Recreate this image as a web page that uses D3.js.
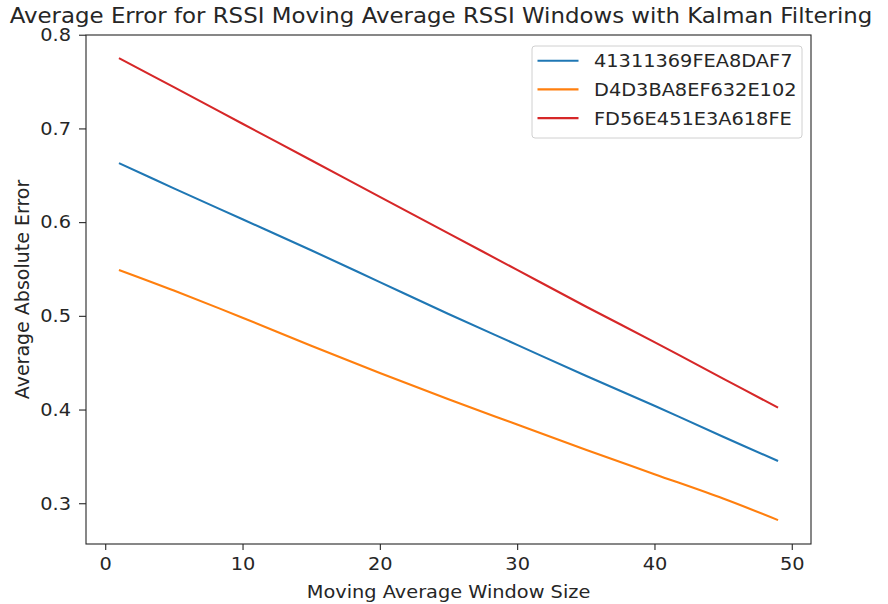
<!DOCTYPE html>
<html>
<head>
<meta charset="utf-8">
<script src="https://cdn.jsdelivr.net/npm/d3@7"></script>
<style>
  body { margin: 0; background: #fff; }
  text { font-family: "DejaVu Sans", sans-serif; fill: #262626; }
</style>
</head>
<body>
<div id="chart"></div>
<script>
const windowSizes = [1, 5, 10, 15, 20, 25, 30, 35, 40, 45, 49];
const seriesNames = ["41311369FEA8DAF7", "D4D3BA8EF632E102", "FD56E451E3A618FE"];
const blueValues = [0.663, 0.636, 0.603, 0.570, 0.536, 0.502, 0.469, 0.436, 0.404, 0.371, 0.345];
const orangeValues = [0.549, 0.527, 0.498, 0.468, 0.439, 0.411, 0.384, 0.357, 0.331, 0.305, 0.282];
const redValues = [0.775, 0.744, 0.705, 0.666, 0.627, 0.588, 0.549, 0.510, 0.472, 0.433, 0.402];
const xTicks = [0, 10, 20, 30, 40, 50];
const yTicks = [0.3, 0.4, 0.5, 0.6, 0.7, 0.8];
const colors = ["#1f77b4", "#ff7f0e", "#d62728"];

const width = 888, height = 604;
const margin = { left: 86, right: 77, top: 35, bottom: 60 };
// the picture is stretched a bit wider than tall
const stretch = 1.075;

const svg = d3.select("#chart").append("svg")
    .attr("width", width)
    .attr("height", height);

const x = d3.scaleLinear().domain([-1.4, 51.4]).range([margin.left, width - margin.right]);
const y = d3.scaleLinear().domain([0.2565, 0.7997]).range([height - margin.bottom, margin.top]);

const allSeries = [blueValues, orangeValues, redValues];

const line = d3.line()
    .x((d, i) => x(windowSizes[i]))
    .y(d => y(d))
    .curve(d3.curveCatmullRom.alpha(0.5));

svg.selectAll("path.series")
    .data(allSeries)
    .enter()
    .append("path")
    .attr("class", "series")
    .attr("d", d => line(d))
    .attr("fill", "none")
    .attr("stroke", (d, i) => colors[i])
    .attr("stroke-width", 2.1);

function widen(sel, s) {
    s = s || stretch;
    sel.each(function () {
        const t = d3.select(this);
        const tx = +t.attr("x") || 0, ty = +t.attr("y") || 0;
        t.attr("x", 0).attr("y", 0)
            .attr("transform", "translate(" + tx + "," + ty + ") scale(" + s + ",1)");
    });
}

// axes
const xAxis = d3.axisBottom(x).tickValues(xTicks).tickSize(6).tickPadding(7.5).tickFormat(d3.format("d"));
const yAxis = d3.axisLeft(y).tickValues(yTicks).tickSize(7).tickPadding(8).tickFormat(d3.format(".1f"));

const xAxisG = svg.append("g")
    .attr("transform", "translate(0," + (height - margin.bottom) + ")")
    .call(xAxis);
const yAxisG = svg.append("g")
    .attr("transform", "translate(" + margin.left + ",0)")
    .call(yAxis);

[xAxisG, yAxisG].forEach(g => {
    g.select(".domain").remove();
    g.selectAll(".tick line").attr("stroke", "#262626").attr("stroke-width", 1.1);
    g.selectAll(".tick text").style("font-size", "18px").attr("fill", "#262626");
    widen(g.selectAll(".tick text"));
});

// frame
svg.append("rect")
    .attr("x", margin.left)
    .attr("y", margin.top)
    .attr("width", width - margin.left - margin.right)
    .attr("height", height - margin.top - margin.bottom)
    .attr("fill", "none")
    .attr("stroke", "#262626")
    .attr("stroke-width", 1.1);

// titles
svg.append("text")
    .attr("x", 441)
    .attr("y", 23)
    .attr("text-anchor", "middle")
    .style("font-size", "21.6px")
    .text("Average Error for RSSI Moving Average RSSI Windows with Kalman Filtering")
    .call(widen, 1.06);

svg.append("text")
    .attr("x", (margin.left + width - margin.right) / 2)
    .attr("y", 598)
    .attr("text-anchor", "middle")
    .style("font-size", "18px")
    .text("Moving Average Window Size")
    .call(widen);

svg.append("text")
    .attr("transform", "translate(29," + ((margin.top + height - margin.bottom) / 2) + ") rotate(-90)")
    .attr("text-anchor", "middle")
    .style("font-size", "19px")
    .text("Average Absolute Error");

// legend
const legend = svg.append("g").attr("transform", "translate(532,46)");
legend.append("rect")
    .attr("width", 270)
    .attr("height", 92)
    .attr("rx", 3)
    .attr("fill", "#fff")
    .attr("fill-opacity", 0.8)
    .attr("stroke", "#d0d0d0")
    .attr("stroke-width", 1);

const items = legend.selectAll("g.item")
    .data(seriesNames)
    .enter()
    .append("g")
    .attr("class", "item")
    .attr("transform", (d, i) => "translate(0," + (14.7 + i * 28.7) + ")");

items.append("line")
    .attr("x1", 5.5).attr("x2", 46.5)
    .attr("stroke", (d, i) => colors[i])
    .attr("stroke-width", 2.1);

items.append("text")
    .attr("x", 62)
    .attr("y", 6.5)
    .style("font-size", "18px")
    .text(d => d)
    .call(widen);
</script>
</body>
</html>
